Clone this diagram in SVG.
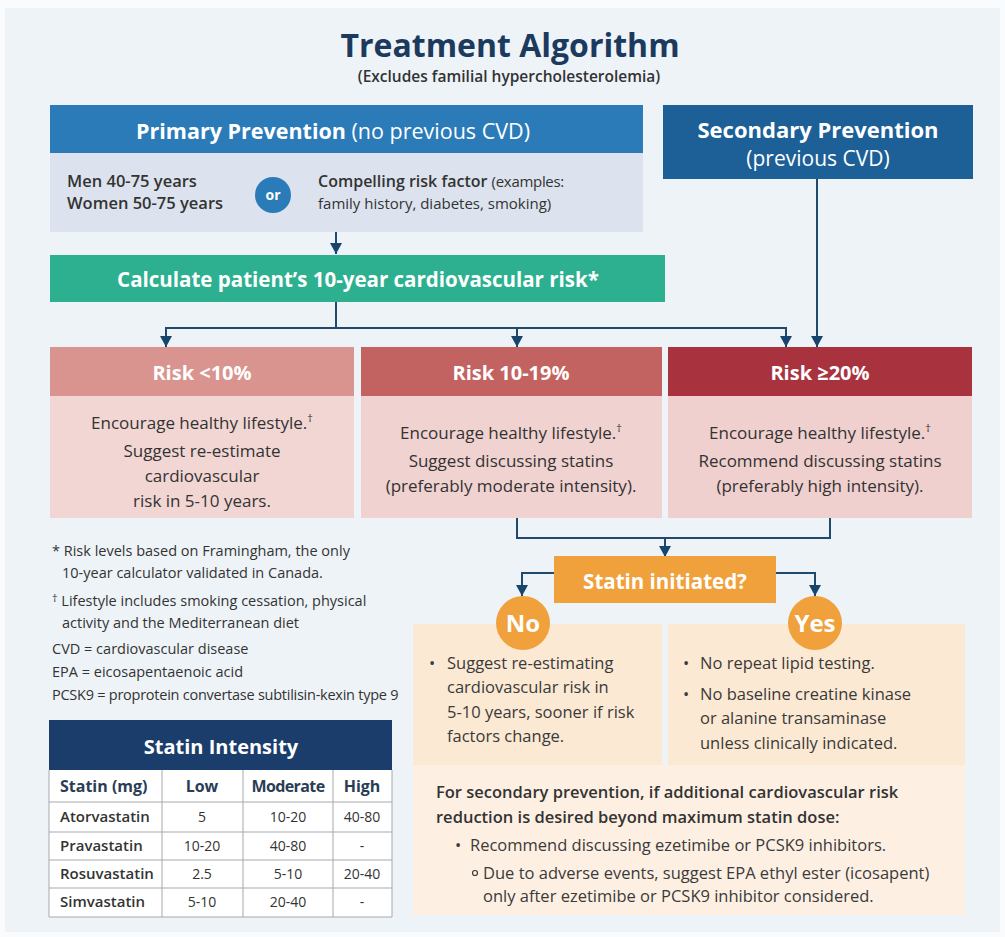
<svg xmlns="http://www.w3.org/2000/svg" width="1005" height="937" viewBox="0 0 1005 937">
<style>
text{font-family:"Open Sans","Liberation Sans",sans-serif;}
.w{fill:#ffffff;}
.d{fill:#333333;}
.hd{font-size:22px;font-weight:700;fill:#ffffff;text-anchor:middle;}
.rh{font-size:20px;font-weight:700;fill:#ffffff;text-anchor:middle;}
.rb{font-size:17px;fill:#333333;text-anchor:middle;}
.fn{font-size:14.5px;fill:#333333;}
.pt{font-size:16.5px;fill:#3a3a3a;}
.tb{font-size:14px;fill:#333333;}
.th{font-size:16px;font-weight:700;fill:#2a3d55;}
.tn{font-size:15px;font-weight:600;fill:#333333;}
.tc{text-anchor:middle;}
.conn{fill:none;stroke:#1f4a6e;stroke-width:2;}
.grid{stroke:#a5a9ad;stroke-width:1;fill:none;}
</style>
<defs>
<marker id="ad" markerWidth="12" markerHeight="12" refX="6" refY="11" orient="0" markerUnits="userSpaceOnUse" viewBox="0 0 12 12">
<path d="M0,0 L12,0 L6,11 Z" fill="#17456e"/>
</marker>
</defs>
<rect x="0" y="0" width="1005" height="937" fill="#fafbfc"/>
<rect x="5" y="8" width="995" height="924" fill="#eef3f8"/>

<g id="title">
<text x="510" y="57" text-anchor="middle" font-size="32" font-weight="700" fill="#1b3a5e">Treatment Algorithm</text>
<text x="509" y="82" text-anchor="middle" font-size="15.5" font-weight="600" fill="#333333">(Excludes familial hypercholesterolemia)</text>
</g>

<g id="connectors">
<path class="conn" d="M336,232 V254" marker-end="url(#ad)"/>
<path class="conn" d="M336,302 V328"/>
<path class="conn" d="M166,347 V328 H786 V347" marker-end="url(#ad)" marker-start="url(#ad)"/>
<path class="conn" d="M517,328 V347" marker-end="url(#ad)"/>
<path class="conn" d="M817,179 V347" marker-end="url(#ad)"/>
<path class="conn" d="M517,518 V538 H830 V518"/>
<path class="conn" d="M665,538 V557" marker-end="url(#ad)"/>
<path class="conn" d="M554,573 H522 V596" marker-end="url(#ad)"/>
<path class="conn" d="M776,573 H815 V596" marker-end="url(#ad)"/>
</g>

<g id="primary">
<rect x="50" y="105" width="593" height="48" fill="#2b7bb9"/>
<rect x="50" y="153" width="593" height="79" fill="#dce3ee"/>
<text x="333" y="139" text-anchor="middle" font-size="21.5" class="w"><tspan font-weight="700">Primary Prevention</tspan> (no previous CVD)</text>
<text x="67" y="187" font-size="16.5" font-weight="600" class="d">Men 40-75 years</text>
<text x="67" y="209" font-size="16.5" font-weight="600" class="d">Women 50-75 years</text>
<circle cx="273" cy="195" r="18" fill="#2b7bb9"/>
<text x="273" y="200" text-anchor="middle" font-size="14" font-weight="700" class="w">or</text>
<text x="318" y="187" font-size="16" class="d"><tspan font-weight="600">Compelling risk factor</tspan> <tspan font-size="15" letter-spacing="-0.3">(examples:</tspan></text>
<text x="318" y="209" font-size="15" class="d">family history, diabetes, smoking)</text>
</g>

<g id="secondary">
<rect x="663" y="105" width="310" height="74" fill="#1d5f97"/>
<text x="818" y="138" class="hd">Secondary Prevention</text>
<text x="818" y="166" text-anchor="middle" font-size="21" class="w">(previous CVD)</text>
</g>

<g id="calculate">
<rect x="50" y="255" width="615" height="47" fill="#2db08f"/>
<text x="358" y="287" text-anchor="middle" font-size="20.5" font-weight="700" class="w">Calculate patient’s 10-year cardiovascular risk*</text>
</g>

<g id="risk-low">
<rect x="50" y="347" width="304" height="49" fill="#d9948f"/>
<rect x="50" y="396" width="304" height="122" fill="#f2d6d4"/>
<text x="202" y="380" class="rh">Risk &lt;10%</text>
<text x="202" y="429" class="rb">Encourage healthy lifestyle.<tspan font-size="11" dy="-7">†</tspan></text>
<text x="202" y="457" class="rb">Suggest re-estimate</text>
<text x="202" y="482" class="rb">cardiovascular</text>
<text x="202" y="507" class="rb">risk in 5-10 years.</text>
</g>

<g id="risk-mid">
<rect x="361" y="347" width="301" height="49" fill="#c36361"/>
<rect x="361" y="396" width="301" height="122" fill="#f0d2d0"/>
<text x="511" y="380" class="rh">Risk 10-19%</text>
<text x="511" y="439" class="rb">Encourage healthy lifestyle.<tspan font-size="11" dy="-7">†</tspan></text>
<text x="511" y="467" class="rb">Suggest discussing statins</text>
<text x="511" y="492" class="rb">(preferably moderate intensity).</text>
</g>

<g id="risk-high">
<rect x="668" y="347" width="304" height="49" fill="#a8333f"/>
<rect x="668" y="396" width="304" height="122" fill="#efd0ce"/>
<text x="820" y="380" class="rh">Risk ≥20%</text>
<text x="820" y="439" class="rb">Encourage healthy lifestyle.<tspan font-size="11" dy="-7">†</tspan></text>
<text x="820" y="467" class="rb">Recommend discussing statins</text>
<text x="820" y="492" class="rb">(preferably high intensity).</text>
</g>

<g id="footnotes">
<text x="52" y="556" class="fn">* Risk levels based on Framingham, the only</text>
<text x="62" y="578" class="fn">10-year calculator validated in Canada.</text>
<text x="52" y="606" class="fn"><tspan font-size="11" dy="-4">†</tspan><tspan dy="4"> Lifestyle includes smoking cessation, physical</tspan></text>
<text x="62" y="628" class="fn">activity and the Mediterranean diet</text>
<text x="52" y="654" class="fn">CVD = cardiovascular disease</text>
<text x="52" y="677" class="fn">EPA = eicosapentaenoic acid</text>
<text x="52" y="700" class="fn" font-size="13.5" letter-spacing="-0.25">PCSK9  = proprotein convertase subtilisin-kexin type 9</text>
</g>

<g id="statin-table">
<rect x="49" y="720" width="343" height="50" fill="#1a3d6c"/>
<text x="221" y="754" text-anchor="middle" font-size="20" font-weight="700" class="w">Statin Intensity</text>
<rect x="49" y="770" width="343" height="147" fill="#ffffff"/>
<path class="grid" d="M49,770 V917 H392 V770 M49,802 H392 M49,832 H392 M49,860 H392 M49,888 H392 M162,770 V917 M243,770 V917 M333,770 V917"/>
<text x="60" y="792" class="th">Statin (mg)</text>
<text x="202" y="792" class="th tc">Low</text>
<text x="288" y="792" class="th tc" letter-spacing="-0.6">Moderate</text>
<text x="362" y="792" class="th tc">High</text>
<text x="60" y="822" class="tn">Atorvastatin</text>
<text x="60" y="851" class="tn">Pravastatin</text>
<text x="60" y="879" class="tn">Rosuvastatin</text>
<text x="60" y="907" class="tn">Simvastatin</text>
<text x="202" y="822" class="tb tc">5</text>
<text x="288" y="822" class="tb tc">10-20</text>
<text x="362" y="822" class="tb tc">40-80</text>
<text x="202" y="851" class="tb tc">10-20</text>
<text x="288" y="851" class="tb tc">40-80</text>
<text x="362" y="851" class="tb tc">-</text>
<text x="202" y="879" class="tb tc">2.5</text>
<text x="288" y="879" class="tb tc">5-10</text>
<text x="362" y="879" class="tb tc">20-40</text>
<text x="202" y="907" class="tb tc">5-10</text>
<text x="288" y="907" class="tb tc">20-40</text>
<text x="362" y="907" class="tb tc">-</text>
</g>

<g id="statin-initiated">
<rect x="554" y="556" width="222" height="47" fill="#f0a13c"/>
<text x="665" y="589" text-anchor="middle" font-size="20.5" font-weight="700" class="w">Statin initiated?</text>
</g>

<g id="secondary-note">
<rect x="413" y="765" width="552" height="150" fill="#fdf0e3"/>
<text x="436" y="798" font-size="16.5" font-weight="600" class="d">For secondary prevention, if additional cardiovascular risk</text>
<text x="436" y="823" font-size="16.5" font-weight="600" class="d">reduction is desired beyond maximum statin dose:</text>
<text x="455" y="851" class="pt">•</text>
<text x="470" y="851" class="pt">Recommend discussing ezetimibe or PCSK9 inhibitors.</text>
<circle cx="475" cy="873" r="2.5" fill="none" stroke="#3a3a3a" stroke-width="1.2"/>
<text x="483" y="879" class="pt">Due to adverse events, suggest EPA ethyl ester (icosapent)</text>
<text x="483" y="902" class="pt">only after ezetimibe or PCSK9 inhibitor considered.</text>
</g>

<g id="no-branch">
<rect x="413" y="624" width="249" height="141" fill="#fbe9d3"/>
<text x="429" y="669" class="pt">•</text>
<text x="447" y="669" class="pt">Suggest re-estimating</text>
<text x="447" y="693" class="pt">cardiovascular risk in</text>
<text x="447" y="718" class="pt">5-10 years, sooner if risk</text>
<text x="447" y="742" class="pt">factors change.</text>
<circle cx="523" cy="623" r="27" fill="#f0a13c"/>
<text x="523" y="632" text-anchor="middle" font-size="24" font-weight="700" class="w">No</text>
</g>

<g id="yes-branch">
<rect x="668" y="624" width="297" height="141" fill="#fbe9d3"/>
<text x="683" y="669" class="pt">•</text>
<text x="700" y="669" class="pt">No repeat lipid testing.</text>
<text x="683" y="700" class="pt">•</text>
<text x="700" y="700" class="pt">No baseline creatine kinase</text>
<text x="700" y="724" class="pt">or alanine transaminase</text>
<text x="700" y="749" class="pt">unless clinically indicated.</text>
<circle cx="815" cy="623" r="27" fill="#f0a13c"/>
<text x="815" y="632" text-anchor="middle" font-size="24" font-weight="700" class="w">Yes</text>
</g>
</svg>
